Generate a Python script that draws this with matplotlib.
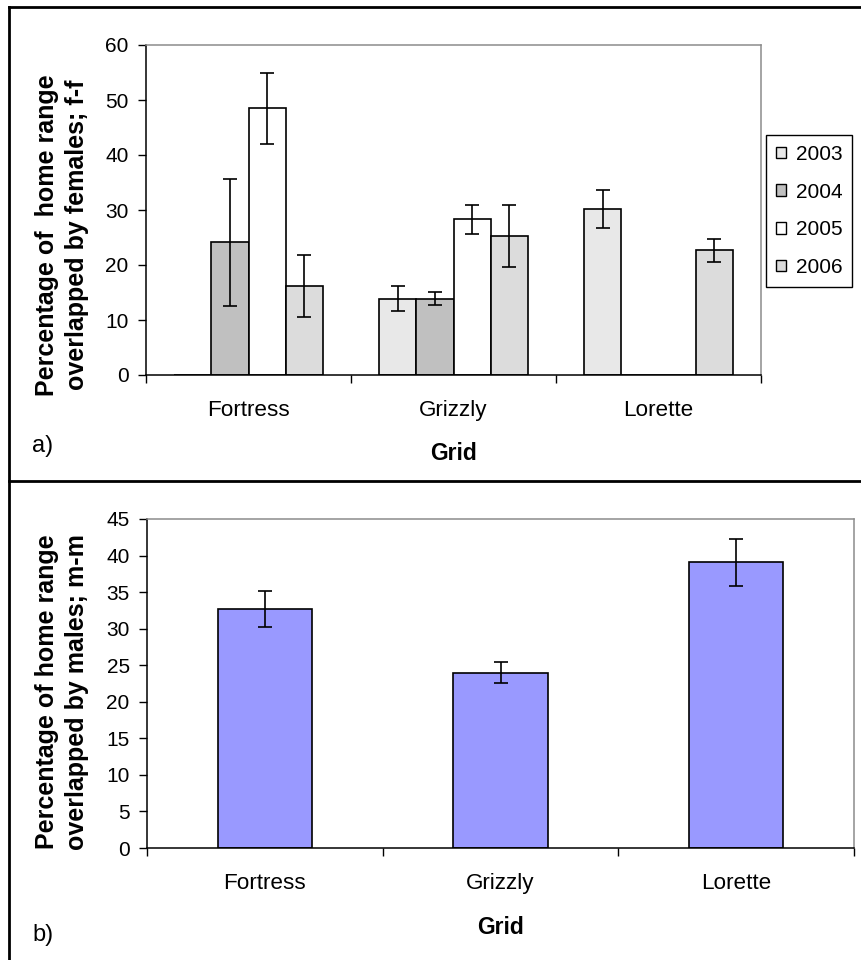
import matplotlib
matplotlib.use('Agg')
import matplotlib.pyplot as plt
import numpy as np
from matplotlib.patches import Patch
from matplotlib.lines import Line2D

plt.rcParams['font.family'] = ['Liberation Sans', 'DejaVu Sans']

# ---------------- data ----------------
grids = ['Fortress', 'Grizzly', 'Lorette']
years = ['2003', '2004', '2005', '2006']
ff_2003 = [0.0, 13.9, 30.2]
ff_2004 = [24.1, 13.9, 0.0]
ff_2005 = [48.5, 28.3, 0.0]
ff_2006 = [16.2, 25.3, 22.7]
ff_err_2003 = [0.0, 2.2, 3.5]
ff_err_2004 = [11.5, 1.2, 0.0]
ff_err_2005 = [6.5, 2.65, 0.0]
ff_err_2006 = [5.7, 5.7, 2.1]
mm_values = [32.7, 24.0, 39.1]
mm_err = [2.5, 1.45, 3.2]
ff_ticks = [0, 10, 20, 30, 40, 50, 60]
mm_ticks = [0, 5, 10, 15, 20, 25, 30, 35, 40, 45]
ff_ylabel = 'Percentage of  home range\noverlapped by females; f-f'
mm_ylabel = 'Percentage of home range\noverlapped by males; m-m'
xlabel = 'Grid'

year_colors = ['#E8E8E8', '#C0C0C0', '#FFFFFF', '#DCDCDC']
male_color = '#9999FF'

W, H = 861, 960
fig = plt.figure(figsize=(W / 100, H / 100), dpi=100)

TICK_FS = 15
CAT_FS = 16.2
LAB_FS = 18
XLAB_FS = 16.5
PANEL_FS = 17


def style_axes(ax, ncat, ticks):
    ax.set_xlim(-0.5, ncat - 0.5)
    ax.set_ylim(ticks[0], ticks[-1])
    ax.set_yticks(ticks)
    ax.set_xticks(np.arange(ncat + 1) - 0.5)
    ax.set_xticklabels([''] * (ncat + 1))
    ax.set_xticks(np.arange(ncat), minor=True)
    ax.set_xticklabels(grids, minor=True, fontsize=CAT_FS)
    ax.tick_params(axis='x', which='minor', length=0, pad=18)
    ax.tick_params(axis='x', which='major', length=5.5, width=1.0, direction='out')
    ax.tick_params(axis='y', length=6, width=1.0, direction='out', pad=6.5,
                   labelsize=TICK_FS)
    for s in ['left', 'bottom']:
        ax.spines[s].set_color('black')
        ax.spines[s].set_linewidth(1.1)
    for s in ['top', 'right']:
        ax.spines[s].set_color('#8C8C8C')
        ax.spines[s].set_linewidth(1.1)


# ---------------- panel a ----------------
ax1 = fig.add_axes([146 / W, 1 - 375 / H, (761 - 146) / W, (375 - 45) / H])
series = [ff_2003, ff_2004, ff_2005, ff_2006]
errs = [ff_err_2003, ff_err_2004, ff_err_2005, ff_err_2006]
x = np.arange(len(grids))
w = 1 / 5.5
handles = []
for i, (vals, err, col, yr) in enumerate(zip(series, errs, year_colors, years)):
    pos = x + (i - 1.5) * w
    ax1.bar(pos, vals, width=w, color=col, edgecolor='black', linewidth=1.2, zorder=2)
    vals_a = np.array(vals)
    err_a = np.array(err)
    m = err_a > 0
    ax1.errorbar(pos[m], vals_a[m], yerr=err_a[m], fmt='none', ecolor='black',
                 elinewidth=1.2, capsize=4.7, capthick=1.2, zorder=3)
    handles.append(Patch(facecolor=col, edgecolor='black', linewidth=1.0, label=yr))
style_axes(ax1, len(grids), ff_ticks)

leg = fig.legend(handles=handles, loc='upper left',
                 bbox_to_anchor=(766 / W, 1 - 135 / H), bbox_transform=fig.transFigure,
                 borderaxespad=0, fontsize=TICK_FS, handlelength=0.48, handleheight=0.48,
                 handletextpad=0.48, borderpad=0.47, labelspacing=0.9,
                 fancybox=False, framealpha=1, edgecolor='black')
leg.get_frame().set_linewidth(1.0)

fig.text(62 / W, 1 - 235 / H, ff_ylabel, rotation=90, ha='center', va='center',
         multialignment='center', fontsize=LAB_FS, fontweight='bold', linespacing=1.35)
fig.text(453.5 / W, 1 - 460 / H, xlabel, ha='center', va='baseline',
         fontsize=XLAB_FS, fontweight='bold')
fig.text(32 / W, 1 - 452 / H, 'a)', ha='left', va='baseline', fontsize=PANEL_FS)

# ---------------- panel b ----------------
ax2 = fig.add_axes([147 / W, 1 - 848 / H, (854 - 147) / W, (848 - 519) / H])
ax2.bar(x, mm_values, width=0.4, color=male_color, edgecolor='black', linewidth=1.2, zorder=2)
ax2.errorbar(x, mm_values, yerr=mm_err, fmt='none', ecolor='black', elinewidth=1.2,
             capsize=4.9, capthick=1.2, zorder=3)
style_axes(ax2, len(grids), mm_ticks)

fig.text(62 / W, 1 - 692 / H, mm_ylabel, rotation=90, ha='center', va='center',
         multialignment='center', fontsize=LAB_FS, fontweight='bold', linespacing=1.35)
fig.text(500.5 / W, 1 - 934 / H, xlabel, ha='center', va='baseline',
         fontsize=XLAB_FS, fontweight='bold')
fig.text(32 / W, 1 - 941 / H, 'b)', ha='left', va='baseline', fontsize=PANEL_FS)

# ---------------- outer frame ----------------
fig.add_artist(Line2D([9 / W, 9 / W], [0, 1 - 7 / H], transform=fig.transFigure,
                      color='black', lw=2.0))
fig.add_artist(Line2D([9 / W, 1], [1 - 7 / H, 1 - 7 / H], transform=fig.transFigure,
                      color='black', lw=2.0))
fig.add_artist(Line2D([9 / W, 1], [1 - 481 / H, 1 - 481 / H], transform=fig.transFigure,
                      color='black', lw=2.0))

fig.savefig('out.png', dpi=100)
